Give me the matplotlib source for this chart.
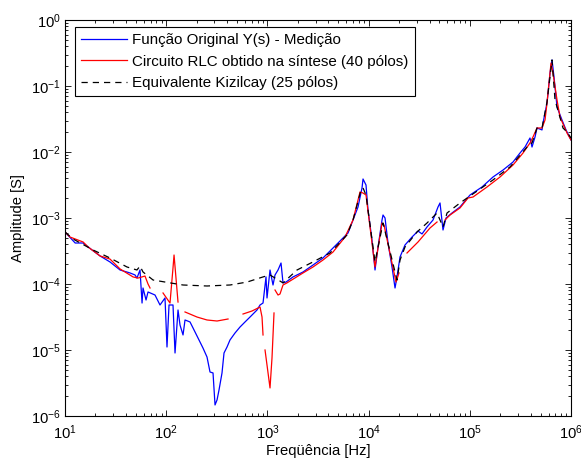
import numpy as np
import matplotlib
matplotlib.use("Agg")
import matplotlib.pyplot as plt
from matplotlib.ticker import LogLocator, NullFormatter

plt.rcParams['font.family'] = ['Liberation Sans', 'DejaVu Sans']
plt.rcParams['mathtext.fontset'] = 'custom'
plt.rcParams['mathtext.rm'] = 'Liberation Sans'
plt.rcParams['mathtext.it'] = 'Liberation Sans'

# Measured admittance Y(s)
freq_meas = [10, 12.6, 15.1, 18.5, 22.2, 27.8, 35.0, 43.9, 49.2, 51.4, 55.1, 57.7, 59.0,
             63.2, 66.1, 77.5, 86.8, 97.3, 101.8, 106.6, 116.7, 122.2, 130.8, 136.9,
             146.6, 153.4, 171.9, 184.0, 206.2, 231.0, 253.0, 270.9, 290.1, 303.6,
             317.8, 332.5, 355.9, 372.5, 398.9, 427.0, 478.4, 536.1, 600.9, 673.1,
             789.3, 845.3, 904.9, 968.7, 991, 1061, 1136, 1189, 1273, 1363, 1426, 1527,
             1791, 2248, 2822, 3543, 4448, 5585, 6257, 7015, 7857, 8606, 8806, 9426,
             9865, 10800, 11570, 12390, 13570, 13880, 14530, 15550, 17030, 18240,
             19080, 20440, 22890, 26850, 30770, 33710, 37770, 43310, 48520, 50770,
             54360, 58200, 66690, 80010, 100460, 131950, 169510, 212900, 267300,
             313400, 351200, 393400, 411800, 441000, 461400, 517000, 528900, 579400,
             620200, 649300, 679300, 727500, 814900, 892500, 1e6]
amp_meas = [6.14e-4, 4.18e-4, 4.18e-4, 3.28e-4, 2.66e-4, 2.16e-4, 1.63e-4, 1.47e-4,
            1.37e-4, 1.23e-4, 1.63e-4, 5.15e-5, 8.70e-5, 5.72e-5, 7.57e-5, 6.81e-5,
            4.81e-5, 6.14e-5, 1.11e-5, 4.81e-5, 4.81e-5, 9.01e-6, 4.04e-5, 2.39e-5,
            1.69e-5, 2.85e-5, 2.66e-5, 2.16e-5, 1.52e-5, 1.07e-5, 7.83e-6, 4.64e-6,
            4.49e-6, 1.47e-6, 1.75e-6, 2.48e-6, 4.49e-6, 9.01e-6, 1.11e-5, 1.42e-5,
            1.81e-5, 2.23e-5, 2.66e-5, 3.16e-5, 4.04e-5, 4.81e-5, 5.15e-5, 1.28e-4,
            6.14e-5, 1.63e-4, 9.66e-5, 1.37e-4, 1.63e-4, 2.08e-4, 1.04e-4, 1.07e-4,
            1.28e-4, 1.52e-4, 1.94e-4, 2.48e-4, 3.51e-4, 4.98e-4, 5.93e-4, 9.33e-4,
            1.47e-3, 2.85e-3, 3.90e-3, 3.16e-3, 1.32e-3, 4.64e-4, 1.63e-4, 3.64e-4,
            9.33e-4, 1.11e-3, 1.00e-3, 4.18e-4, 1.81e-4, 8.70e-5, 1.28e-4, 2.57e-4,
            3.90e-4, 5.15e-4, 6.35e-4, 5.73e-4, 7.31e-4, 9.33e-4, 1.47e-3, 1.69e-3,
            6.58e-4, 1.00e-3, 1.19e-3, 1.47e-3, 2.23e-3, 2.95e-3, 4.18e-3, 5.33e-3,
            7.05e-3, 9.66e-3, 1.19e-2, 1.63e-2, 1.19e-2, 1.69e-2, 2.31e-2, 2.16e-2,
            2.75e-2, 5.53e-2, 0.157, 0.248, 0.137, 4.81e-2, 3.05e-2, 2.16e-2, 0.0152]

# Synthesised RLC circuit (40 poles); NaN marks where the response is not positive
freq_rlc = [10, 11.2, 15.1, 16.9, 22.2, 27.8, 35.0, 47.0, 52.6, 61.7, 66.1, 69.2, np.nan,
            93.0, 109, 116.7, 119.5, 130.8, np.nan,
            153.4, 201.5, 253, 317.8, 408.1, np.nan,
            574.1, 704.5, 845.3, 884.6, 904.9, np.nan,
            947.3, 1061, 1110, 1162, np.nan,
            1189, 1273, 1332, 1426, 1562, 2248, 2822, 3543, 4448, 5846, 7015, 8224,
            8806, 9426, 11570, 13570, 14200, 17030, 18660, 19970, np.nan,
            23950, 30770, 40440, 47440, np.nan,
            56870, 63730, 80010, 95990, 107560, 147910, 198800, 267300, 335600,
            393400, 421300, 461400, 517000, 553500, 579400, 634600, 664000, 727500,
            778600, 913000, 1e6]
amp_rlc = [6.14e-4, 5.15e-4, 4.33e-4, 3.64e-4, 2.66e-4, 2.39e-4, 1.69e-4, 1.28e-4,
           1.23e-4, 1.32e-4, 1.0e-4, 8.70e-5, np.nan,
           7.31e-5, 5.15e-5, 1.75e-4, 2.75e-4, 5.33e-5, np.nan,
           3.77e-5, 3.16e-5, 2.85e-5, 2.75e-5, 2.95e-5, np.nan,
           3.51e-5, 3.90e-5, 4.48e-5, 3.16e-5, 1.69e-5, np.nan,
           1.0e-5, 2.66e-6, 7.57e-6, 3.64e-5, np.nan,
           8.11e-5, 6.81e-5, 7.06e-5, 9.66e-5, 1.04e-4, 1.47e-4, 1.81e-4, 2.31e-4,
           3.05e-4, 5.15e-4, 9.33e-4, 2.48e-3, 2.39e-3, 2.23e-3, 1.81e-4, 8.40e-4,
           7.83e-4, 2.08e-4, 1.07e-4, 1.47e-4, np.nan,
           2.95e-4, 4.33e-4, 7.06e-4, 8.70e-4, np.nan,
           9.33e-4, 1.11e-3, 1.42e-3, 2.01e-3, 2.08e-3, 2.95e-3, 4.18e-3, 6.36e-3,
           9.66e-3, 1.37e-2, 1.69e-2, 2.31e-2, 2.31e-2, 3.05e-2, 5.53e-2, 0.223,
           0.157, 6.14e-2, 3.39e-2, 1.94e-2, 0.0152]

# Kizilcay equivalent (25 poles)
freq_kiz = [10, 12.0, 18.9, 27.8, 41.0, 51.4, 55.1, 59.0, 74.1, 109, 146.6, 253, 427,
            628.7, 904.9, 1061, 1426, 1961, 2822, 4155, 6117, 7015, 8415, 8806, 9426,
            11050, 11570, 13880, 19080, 20440, 22890, 30080, 37770, 47440, 54360,
            59530, 80010, 169510, 249600, 367600, 411800, 461400, 517000, 579400,
            649300, 695000, 833600, 913000, 1e6]
amp_kiz = [6.14e-4, 4.81e-4, 3.28e-4, 2.48e-4, 1.81e-4, 1.63e-4, 1.87e-4, 1.52e-4,
           1.15e-4, 1.04e-4, 9.66e-5, 9.33e-5, 9.66e-5, 1.07e-4, 1.28e-4, 1.37e-4,
           1.04e-4, 1.63e-4, 2.16e-4, 2.95e-4, 5.53e-4, 9.33e-4, 2.66e-3, 2.85e-3,
           2.23e-3, 3.64e-4, 2.16e-4, 8.40e-4, 1.15e-4, 2.31e-4, 3.64e-4, 6.14e-4,
           8.40e-4, 1.19e-3, 7.31e-4, 1.19e-3, 1.69e-3, 3.77e-3, 5.93e-3, 1.19e-2,
           1.37e-2, 2.31e-2, 2.31e-2, 5.73e-2, 0.248, 6.14e-2, 2.31e-2, 2.01e-2, 0.0163]

labels = ['Função Original Y(s) - Medição',
          'Circuito RLC obtido na síntese (40 pólos)',
          'Equivalente Kizilcay (25 pólos)']

FS = 10.6
FS_LEG = 10.9

fig = plt.figure(figsize=(5.81, 4.63), dpi=100)
ax = fig.add_axes([0.1119, 0.1015, 0.8709, 0.8553])

ax.plot(freq_meas, amp_meas, color='#0000ff', lw=0.9, label=labels[0])
ax.plot(freq_rlc, amp_rlc, color='#ff0000', lw=0.9, label=labels[1])
ax.plot(freq_kiz, amp_kiz, color='black', lw=0.9, ls=(0, (5, 4)), label=labels[2])

ax.set_xscale('log')
ax.set_yscale('log')
ax.set_xlim(1e1, 1e6)
ax.set_ylim(1e-6, 1e0)

ax.xaxis.set_major_locator(LogLocator(base=10, numticks=10))
ax.yaxis.set_major_locator(LogLocator(base=10, numticks=10))
ax.xaxis.set_minor_locator(LogLocator(base=10, subs=np.arange(2, 10), numticks=20))
ax.yaxis.set_minor_locator(LogLocator(base=10, subs=np.arange(2, 10), numticks=20))
ax.xaxis.set_minor_formatter(NullFormatter())
ax.yaxis.set_minor_formatter(NullFormatter())
ax.tick_params(which='both', direction='in', top=True, right=True, labelsize=FS,
               color='black', width=0.6)
ax.tick_params(which='major', length=4)
ax.tick_params(which='minor', length=2.2)
ax.tick_params(axis='x', which='major', pad=5)
ax.tick_params(axis='y', which='major', pad=3)
for s in ax.spines.values():
    s.set_linewidth(0.8)

ax.set_xlabel('Freqüência [Hz]', fontsize=FS, labelpad=2)
ax.set_ylabel('Amplitude [S]', fontsize=FS, labelpad=4)

leg = ax.legend(loc='upper left', bbox_to_anchor=(0.02, 0.982), fontsize=FS_LEG,
                frameon=True, fancybox=False, edgecolor='black', framealpha=1,
                handlelength=3.05, handletextpad=0.33, labelspacing=0.5,
                borderpad=0.4, borderaxespad=0.0)
leg.get_frame().set_linewidth(0.8)

fig.savefig('out.png', dpi=100)
